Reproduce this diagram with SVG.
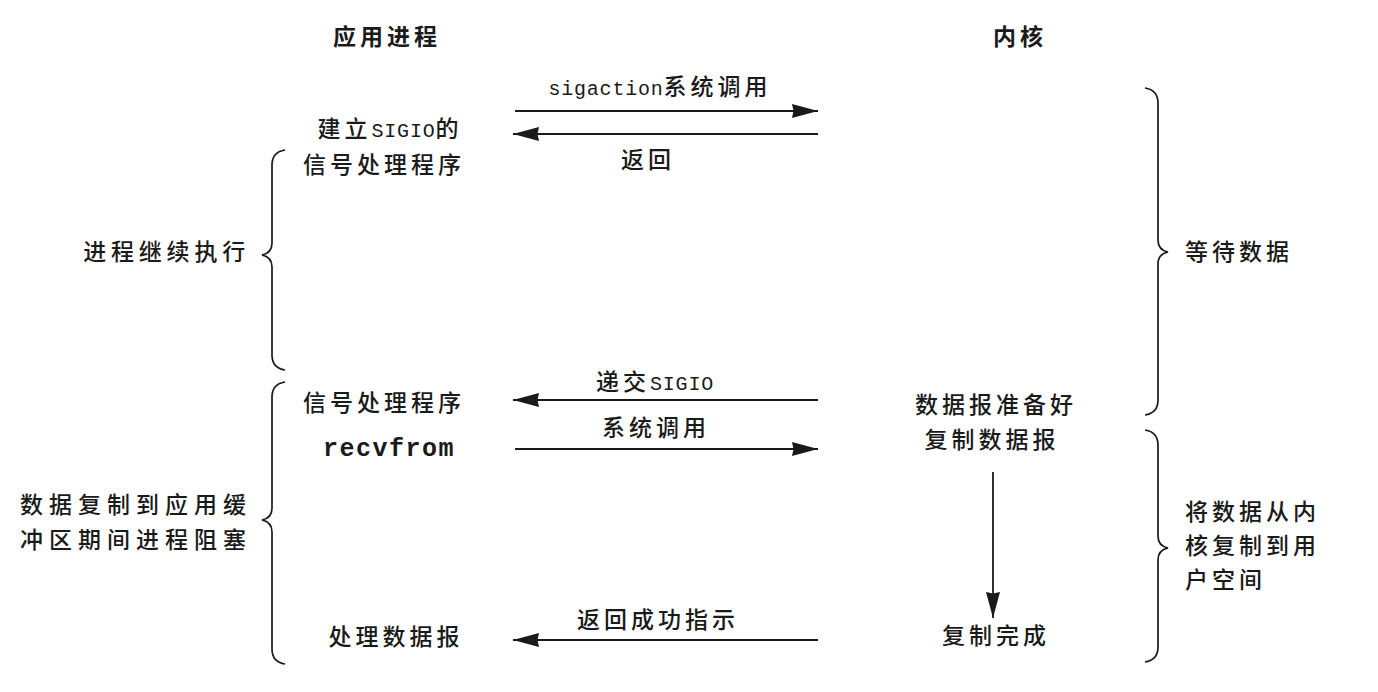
<svg xmlns="http://www.w3.org/2000/svg" width="1378" height="692" viewBox="0 0 1378 692">
<style>
.t{font-family:"Noto Sans CJK SC","Liberation Sans",sans-serif;font-size:23px;fill:#1a1a1a;letter-spacing:4px;font-weight:500}
.h{font-weight:bold}
.w{letter-spacing:6px}
.w5{letter-spacing:4.8px}
.m{font-family:"Liberation Mono","Noto Sans CJK SC",monospace;font-size:20px;letter-spacing:0.8px;font-weight:normal}
.mb{font-family:"Liberation Mono",monospace;font-size:25px;font-weight:bold;letter-spacing:1.5px;fill:#1a1a1a}
.c{text-anchor:middle}
.e{text-anchor:end}
.ln{stroke:#1a1a1a;stroke-width:1.8;fill:none}
.br{stroke:#1a1a1a;stroke-width:1.7;fill:none}
</style>
<defs>
<marker id="ah" markerUnits="userSpaceOnUse" markerWidth="28" markerHeight="14" refX="26" refY="7" orient="auto">
<path d="M0,0 L26,7 L0,14 L1.5,7 z" fill="#1a1a1a"/>
</marker>
</defs>
<rect width="1378" height="692" fill="#fff"/>

<g id="header-app"><text class="t h c" x="387" y="45">应用进程</text></g>
<g id="header-kernel"><text class="t h c" x="1020" y="45">内核</text></g>

<g id="node-setup"><text class="t c" x="390" y="137">建立<tspan class="m">SIGIO</tspan>的</text>
<text class="t c" x="384" y="173">信号处理程序</text></g>
<g id="node-handler"><text class="t c" x="384" y="411">信号处理程序</text></g>
<g id="node-recvfrom"><text class="mb c" x="389" y="456">recvfrom</text></g>
<g id="node-process"><text class="t c" x="396" y="645">处理数据报</text></g>

<g id="node-ready"><text class="t c" x="996" y="413">数据报准备好</text></g>
<g id="node-copy"><text class="t c" x="992" y="448">复制数据报</text></g>
<g id="node-done"><text class="t c" x="996" y="644">复制完成</text></g>

<g id="label-continue">
<path class="br" d="M285,150 Q272,152 272,165 L272,243 Q272,253 262,255 Q272,257 272,267 L272,355 Q272,368 285,370"/>
<text class="t w5 e" x="250" y="260">进程继续执行</text></g>
<g id="label-blocked">
<path class="br" d="M285,382 Q272,384 272,397 L272,508 Q272,518 262,520 Q272,522 272,532 L272,649 Q272,662 285,664"/>
<text class="t w" x="20" y="513">数据复制到应用缓</text>
<text class="t w" x="20" y="548">冲区期间进程阻塞</text></g>
<g id="label-wait">
<path class="br" d="M1145,88 Q1158,90 1158,103 L1158,240 Q1158,250 1168,252 Q1158,254 1158,264 L1158,400 Q1158,413 1145,415"/>
<text class="t" x="1185" y="260">等待数据</text></g>
<g id="label-copy">
<path class="br" d="M1145,430 Q1158,432 1158,445 L1158,536 Q1158,546 1168,548 Q1158,550 1158,560 L1158,647 Q1158,660 1145,662"/>
<text class="t" x="1185" y="520">将数据从内</text>
<text class="t" x="1185" y="554">核复制到用</text>
<text class="t" x="1185" y="588">户空间</text></g>

<g id="connectors">
<line class="ln" x1="515" y1="111" x2="818" y2="111" marker-end="url(#ah)"/>
<text class="t c" x="660" y="95"><tspan class="m">sigaction</tspan>系统调用</text>
<line class="ln" x1="818" y1="134" x2="513" y2="134" marker-end="url(#ah)"/>
<text class="t c" x="648" y="168">返回</text>
<line class="ln" x1="818" y1="400" x2="513" y2="400" marker-end="url(#ah)"/>
<text class="t c" x="655" y="390">递交<tspan class="m">SIGIO</tspan></text>
<line class="ln" x1="515" y1="449" x2="818" y2="449" marker-end="url(#ah)"/>
<text class="t c" x="656" y="436">系统调用</text>
<line class="ln" x1="818" y1="640" x2="513" y2="640" marker-end="url(#ah)"/>
<text class="t c" x="658" y="628">返回成功指示</text>
<line class="ln" x1="993" y1="472" x2="993" y2="618" marker-end="url(#ah)"/>
</g>
</svg>
